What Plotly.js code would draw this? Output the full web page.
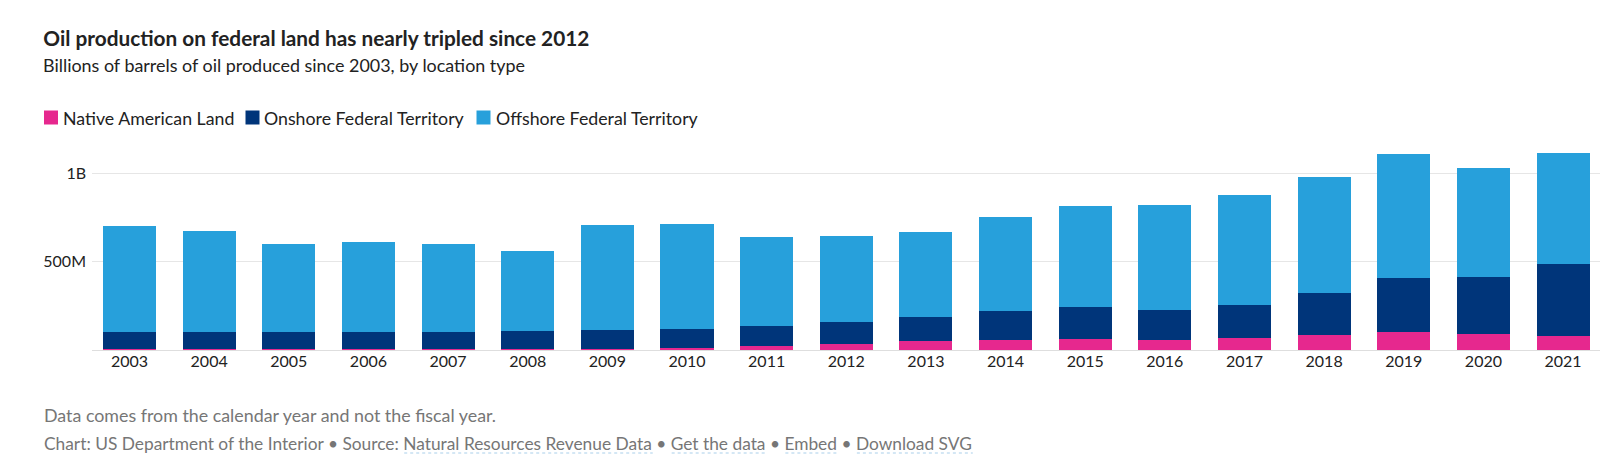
<!DOCTYPE html>
<html>
<head>
<meta charset="utf-8">
<script src="https://cdn.plot.ly/plotly-3.0.1.min.js"></script>
<style>
  html, body { margin: 0; padding: 0; background: #fff; }
  #chart { width: 1600px; height: 468px; }
</style>
</head>
<body>
<div id="chart"></div>
<script>
// Data (millions of barrels)
const years = ['2003','2004','2005','2006','2007','2008','2009','2010','2011','2012',
               '2013','2014','2015','2016','2017','2018','2019','2020','2021'];
const nativeLand = [5, 5, 5, 5, 6, 6, 7, 11, 23, 34, 49, 57, 60, 57, 68, 83, 104, 90, 79];
const onshore    = [98, 95, 95, 98, 97, 101, 104, 108, 111, 124, 138, 162, 183, 167, 187, 239, 303, 323, 407];
const offshore   = [600, 573, 501, 506, 498, 453, 596, 594, 507, 489, 480, 533, 570, 598, 623, 655, 702, 618, 630];
const seriesNames = ['Native American Land', 'Onshore Federal Territory', 'Offshore Federal Territory'];
const seriesColors = ['#e6288e', '#00357a', '#27a0db'];
const yTickVals = [500, 1000];
const yTickText = ['500M', '1B'];

const titleText = 'Oil production on federal land has nearly tripled since 2012';
const subtitleText = 'Billions of barrels of oil produced since 2003, by location type';
const noteText = 'Data comes from the calendar year and not the fiscal year.';
const sourceParts = ['Chart: US Department of the Interior • Source: ', 'Natural Resources Revenue Data',
                     ' • ', 'Get the data', ' • ', 'Embed', ' • ', 'Download SVG'];
const sourceLinks = [false, true, false, true, false, true, false, true];

const FONT = 'Lato, "Source Sans Pro", sans-serif';

// text measurement so the fallback font spans the same width as the original face
const ctx = document.createElement('canvas').getContext('2d');
function textWidth(text, size, weight) {
  ctx.font = (weight || 'normal') + ' ' + size + 'px Lato';
  return ctx.measureText(text).width;
}
function fitSize(text, target, weight) {
  return 100 * target / textWidth(text, 100, weight);
}

// pixel geometry helpers (plot area: x 92..1600, y 150..350)
const L = 92, R = 1600, T = 150, B = 350;
const px = x => (x - L) / (R - L);
const py = y => (B - y) / (B - T);

const seriesValues = [nativeLand, onshore, offshore];
const traces = seriesValues.map((vals, i) => ({
  type: 'bar',
  name: seriesNames[i],
  x: years,
  y: vals,
  marker: { color: seriesColors[i], line: { width: 0 } },
  hovertemplate: '%{x}: %{y}M<extra>' + seriesNames[i] + '</extra>'
}));

const shapes = [];
const annotations = [];
function addText(text, x, y, size, color, weight) {
  annotations.push({
    xref: 'paper', yref: 'paper', x: px(x), y: py(y),
    xanchor: 'left', yanchor: 'middle', showarrow: false,
    borderpad: 0, borderwidth: 0,
    text: weight === 'bold' ? '<b>' + text + '</b>' : text,
    font: { family: FONT, size: size, color: color }
  });
}

// Manual legend (square left, label start, label end)
const legendItems = [
  { sq: 44, tx: 63.3, end: 235 },
  { sq: 245.5, tx: 264.3, end: 465 },
  { sq: 476.5, tx: 495.7, end: 698.3 }
];
const legendSize = legendItems.reduce((s, it, i) => s + fitSize(seriesNames[i], it.end - it.tx), 0) / 3;
legendItems.forEach((it, i) => {
  shapes.push({
    type: 'rect', xref: 'paper', yref: 'paper',
    x0: px(it.sq), x1: px(it.sq + 14), y0: py(124.5), y1: py(110.5),
    fillcolor: seriesColors[i], line: { width: 0 }
  });
  addText(seriesNames[i], it.tx, 118, legendSize, '#222');
});

addText(subtitleText, 43.3, 65, fitSize(subtitleText, 526.7 - 43.3), '#222');
addText(noteText, 44.3, 415, fitSize(noteText, 498.3 - 44.3), '#767676');

// Source line with link underlines
const fullSource = sourceParts.join('');
const srcSize = fitSize(fullSource, 973.3 - 44.3);
addText(fullSource, 44.3, 443.5, srcSize, '#767676');
let cursor = 44.3;
sourceParts.forEach((part, i) => {
  const w = textWidth(part, srcSize);
  if (sourceLinks[i]) {
    shapes.push({
      type: 'line', xref: 'paper', yref: 'paper',
      x0: px(cursor), x1: px(cursor + w), y0: py(453), y1: py(453),
      line: { color: '#a9cfea', width: 1, dash: 'dot' }
    });
  }
  cursor += w;
});

const layout = {
  width: 1600, height: 468,
  margin: { l: L, r: 1600 - R, t: T, b: 468 - B, pad: 0 },
  paper_bgcolor: '#fff', plot_bgcolor: '#fff',
  barmode: 'stack',
  bargap: 0.334,
  showlegend: false,
  title: {
    text: '<b>' + titleText + '</b>',
    x: 43.3 / 1600, xref: 'container', xanchor: 'left',
    y: 1 - 38.5 / 468, yref: 'container', yanchor: 'middle',
    font: { family: FONT, size: fitSize(titleText, 590 - 43.3, 'bold'), color: '#222' }
  },
  xaxis: {
    type: 'category',
    range: [-0.471, 18.464],
    showgrid: false, zeroline: false, showline: false,
    ticks: '', ticklen: 0,
    tickfont: { family: FONT, size: 16, color: '#222' },
    fixedrange: true
  },
  yaxis: {
    range: [0, 1131.2],
    tickvals: yTickVals, ticktext: yTickText,
    showgrid: true, gridcolor: '#e6e6e6', gridwidth: 1,
    zeroline: true, zerolinecolor: '#dedede', zerolinewidth: 1,
    showline: false, ticks: '',
    ticklabelstandoff: 5,
    tickfont: { family: FONT, size: 16, color: '#222' },
    fixedrange: true
  },
  shapes: shapes,
  annotations: annotations,
  font: { family: FONT }
};

Plotly.newPlot('chart', traces, layout, { displayModeBar: false, staticPlot: true });
</script>
</body>
</html>
